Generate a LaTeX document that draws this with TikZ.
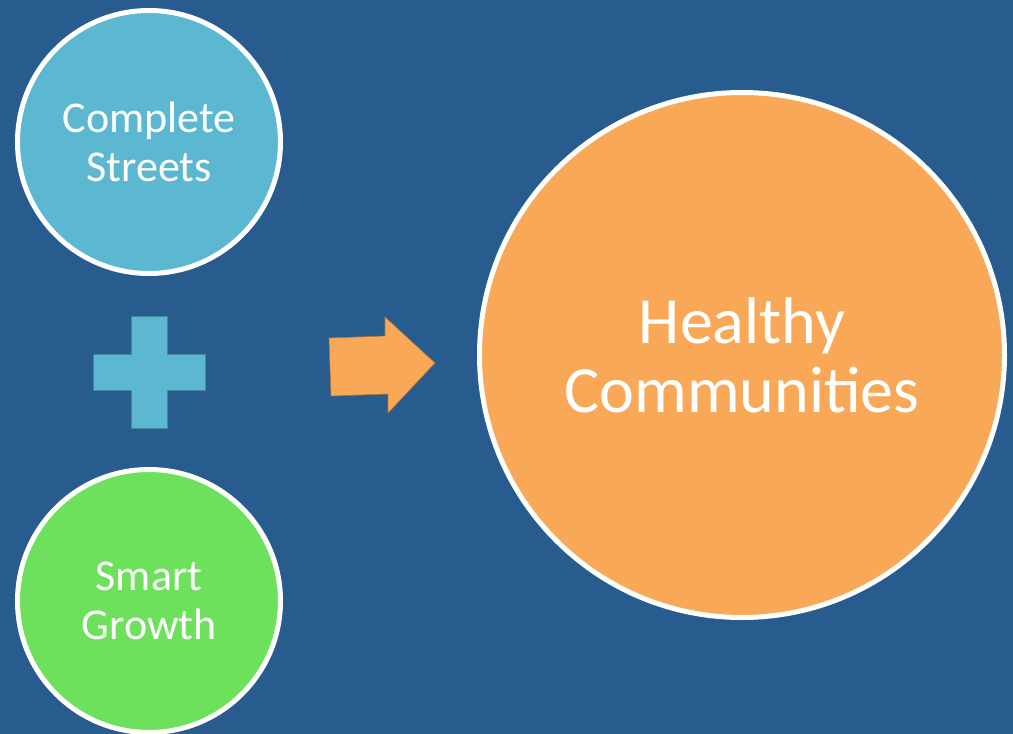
\documentclass[tikz,border=0pt]{standalone}
\usepackage{fontspec}
\setmainfont{Carlito}
\definecolor{bg}{HTML}{285C8E}
\definecolor{cblue}{HTML}{5BB8D0}
\definecolor{cgreen}{HTML}{6DE15B}
\definecolor{corange}{HTML}{F9A857}
\begin{document}
\begin{tikzpicture}[x=1pt,y=-1pt,
  bubble/.style={circle, draw=white, line width=5pt, inner sep=0pt, text=white, align=center},
  smallbubble/.style={bubble, minimum size=263pt, font=\fontsize{44}{49}\selectfont},
  plusshape/.style={fill=cblue, draw=cblue!75!black, line width=0.8pt},
  blockarrow/.style={fill=corange, draw=corange!70!black, line width=0.6pt, line join=miter}]
\fill[bg] (0,0) rectangle (1013,734);
\useasboundingbox (0,0) rectangle (1013,734);
\node[smallbubble, fill=cblue] (cs) at (149,142) {Complete\\Streets};
\node[smallbubble, fill=cgreen] (sg) at (149,601) {Smart\\Growth};
\node[bubble, fill=corange, minimum size=525pt, font=\fontsize{66}{69}\selectfont] (hc) at (742,355) {Healthy\\Communities};
\filldraw[plusshape] (131,316) -- (167,316) -- (167,354) -- (205,354) -- (205,390) -- (167,390) -- (167,428) -- (131,428) -- (131,390) -- (93,390) -- (93,354) -- (131,354) -- cycle;
\filldraw[blockarrow] (329,338) -- (385,336) -- (385,317) -- (435,363) -- (388,413) -- (388,394) -- (331,396) -- cycle;
\end{tikzpicture}
\end{document}
